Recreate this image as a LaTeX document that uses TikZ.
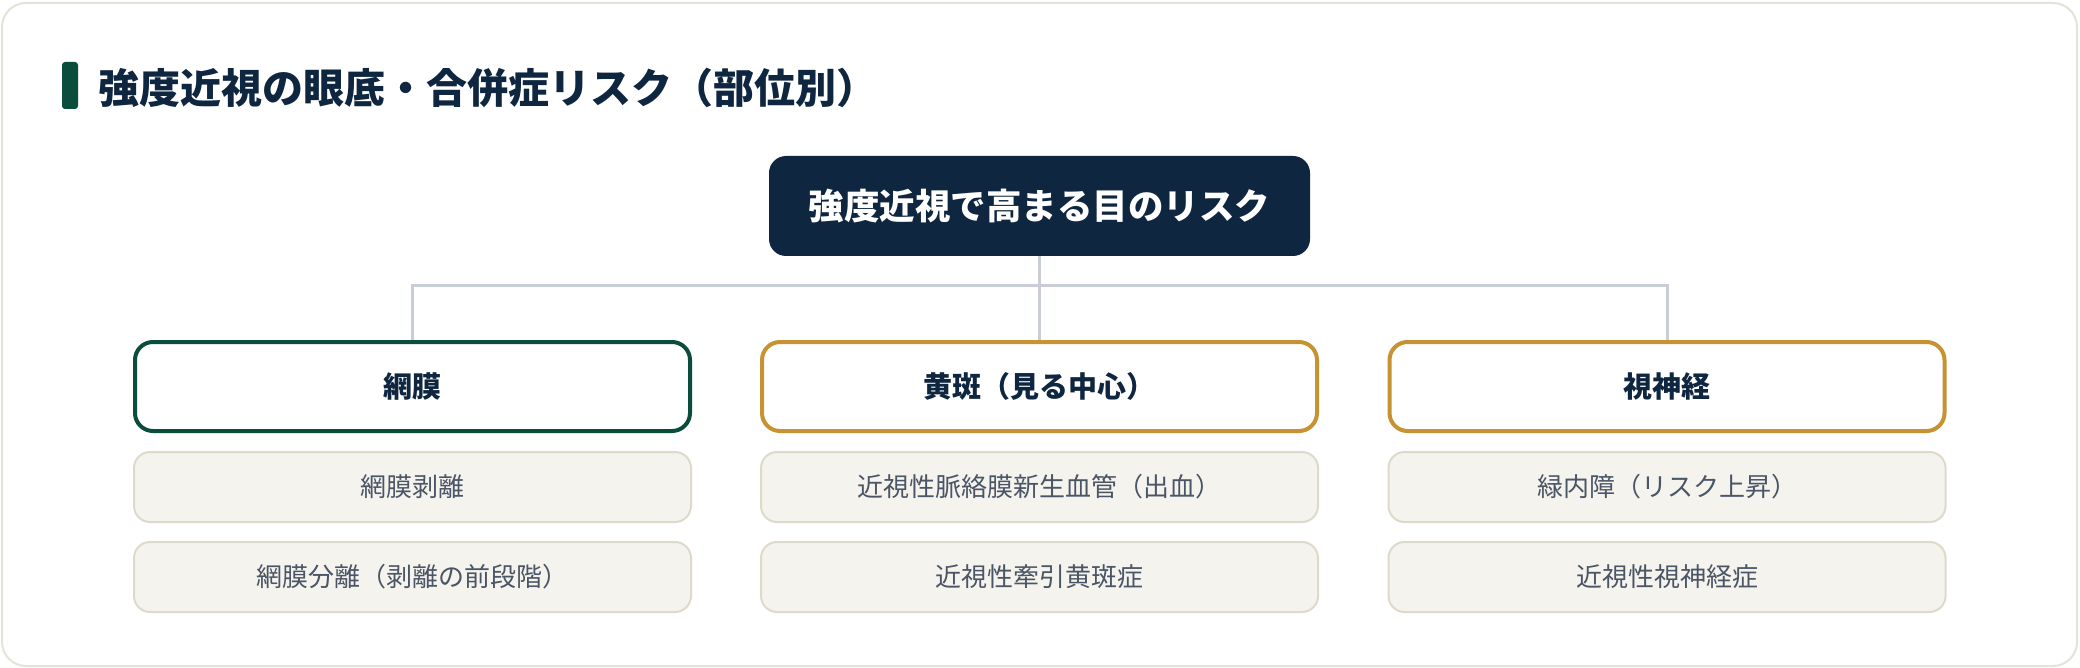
\documentclass[tikz,border=0pt]{standalone}
\usepackage{fontspec}
\setmainfont{Noto Sans CJK JP}
\definecolor{navy}{HTML}{0F2640}
\definecolor{dgreen}{HTML}{0B4D3C}
\definecolor{gold}{HTML}{C79232}
\definecolor{outerline}{HTML}{E5E3D8}
\definecolor{connline}{HTML}{C9CED6}
\definecolor{itemfill}{HTML}{F5F3EE}
\definecolor{itemline}{HTML}{DEDACB}
\definecolor{itemtext}{HTML}{4A5565}
\tikzset{
  rootbox/.style={draw=none, fill=navy, rounded corners=17pt, minimum width=541pt, minimum height=100pt, inner sep=0pt, text=white, font=\fontsize{35.5}{40}\selectfont\bfseries},
  catbox/.style={draw=#1, line width=4pt, fill=white, rounded corners=18pt, minimum width=555pt, minimum height=89pt, inner sep=0pt, text=navy, font=\fontsize{29}{34}\selectfont\bfseries},
  itembox/.style={draw=itemline, line width=2pt, fill=itemfill, rounded corners=16pt, minimum width=557pt, minimum height=70pt, inner sep=0pt, text=itemtext, font=\fontsize{26}{30}\selectfont},
  conn/.style={draw=connline, line width=3pt},
  titletext/.style={anchor=west, inner sep=0pt, text=navy, font=\fontsize{41}{46}\selectfont\bfseries}
}
\begin{document}
\begin{tikzpicture}[x=1pt,y=-1pt]
\useasboundingbox (0,0) rectangle (2080,668);
\fill[white] (0,0) rectangle (2080,668);
\draw[outerline, line width=2pt, fill=white, rounded corners=24pt] (2,3) rectangle (2077,666);
% title
\fill[dgreen, rounded corners=3pt] (62,62) rectangle (78,109);
\node[titletext] (title) at (98,88) {強度近視の眼底・合併症リスク（部位別）};
% root
\node[rootbox] (root) at (1039.5,206) {強度近視で高まる目のリスク};
% categories
\node[catbox=dgreen] (c1) at (412.5,386.5) {網膜};
\node[catbox=gold] (c2) at (1039.5,386.5) {黄斑（見る中心）};
\node[catbox=gold] (c3) at (1667,386.5) {視神経};
% connectors
\coordinate (bus) at (1039.5,286);
\draw[conn] (root.south) -- (c2.north);
\draw[conn] (bus) -| (c1.north);
\draw[conn] (bus) -| (c3.north);
% items
\node[itembox] (i11) at (412.5,487) {網膜剥離};
\node[itembox] (i12) at (412.5,577) {網膜分離（剥離の前段階）};
\node[itembox] (i21) at (1039.5,487) {近視性脈絡膜新生血管（出血）};
\node[itembox] (i22) at (1039.5,577) {近視性牽引黄斑症};
\node[itembox] (i31) at (1667,487) {緑内障（リスク上昇）};
\node[itembox] (i32) at (1667,577) {近視性視神経症};
\end{tikzpicture}
\end{document}
